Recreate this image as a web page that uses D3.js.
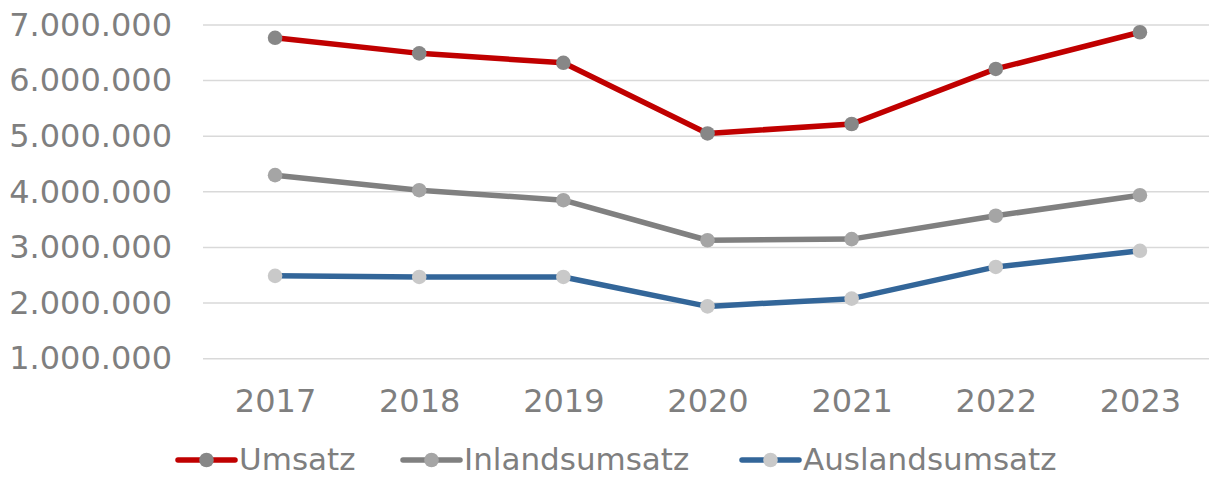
<!DOCTYPE html>
<html>
<head>
<meta charset="utf-8">
<script src="https://cdn.jsdelivr.net/npm/d3@7"></script>
<style>
  html, body { margin: 0; padding: 0; background: #fff; }
  svg { display: block; }
  text { font-family: "DejaVu Sans", Verdana, sans-serif; fill: #7f7f7f; }
</style>
</head>
<body>
<svg id="chart" width="1209" height="477"></svg>
<script>
const years = ["2017", "2018", "2019", "2020", "2021", "2022", "2023"];
const umsatz = [6770000, 6490000, 6320000, 5050000, 5220000, 6210000, 6870000];
const inlandsumsatz = [4300000, 4030000, 3850000, 3130000, 3150000, 3570000, 3940000];
const auslandsumsatz = [2490000, 2470000, 2470000, 1940000, 2080000, 2650000, 2940000];
const yTicks = [1000000, 2000000, 3000000, 4000000, 5000000, 6000000, 7000000];
const seriesNames = ["Umsatz", "Inlandsumsatz", "Auslandsumsatz"];

const series = [
  { name: seriesNames[0], values: umsatz, line: "#c00000", marker: "#878787" },
  { name: seriesNames[1], values: inlandsumsatz, line: "#808080", marker: "#a5a5a5" },
  { name: seriesNames[2], values: auslandsumsatz, line: "#336699", marker: "#c9c9c9" }
];

const svg = d3.select("#chart");
const plot = { left: 203, right: 1212, top: 25, bottom: 358.7 };

const x = d3.scalePoint().domain(years).range([plot.left, plot.right]).padding(0.5);
const y = d3.scaleLinear().domain([1000000, 7000000]).range([plot.bottom, plot.top]);

const fmt = v => d3.format(",")(v).replace(/,/g, ".");

// gridlines
svg.append("g").selectAll("line").data(yTicks).join("line")
  .attr("x1", plot.left).attr("x2", 1209)
  .attr("y1", d => y(d)).attr("y2", d => y(d))
  .attr("stroke", "#d9d9d9").attr("stroke-width", 1.5);

// y labels
const yAxis = d3.axisLeft(y).tickValues(yTicks).tickFormat(fmt).tickSize(0).tickPadding(0);
const gy = svg.append("g").attr("transform", "translate(172,0)").call(yAxis);
gy.select(".domain").remove();
gy.selectAll("text").attr("font-size", 32).attr("fill", "#7f7f7f")
  .attr("font-family", "DejaVu Sans, Verdana, sans-serif");

// x labels
const xAxis = d3.axisBottom(x).tickSize(0).tickPadding(0);
const gx = svg.append("g").attr("transform", "translate(0,389)").call(xAxis);
gx.select(".domain").remove();
gx.selectAll("text").attr("font-size", 32).attr("fill", "#7f7f7f")
  .attr("font-family", "DejaVu Sans, Verdana, sans-serif");

const line = d3.line().x((d, i) => x(years[i])).y(d => y(d));

series.forEach(s => {
  svg.append("path").datum(s.values)
    .attr("d", line).attr("fill", "none")
    .attr("stroke", s.line).attr("stroke-width", 5.5)
    .attr("stroke-linejoin", "round");
  svg.append("g").selectAll("circle").data(s.values).join("circle")
    .attr("cx", (d, i) => x(years[i])).attr("cy", d => y(d))
    .attr("r", 7.3).attr("fill", s.marker);
});

// legend
const legendX = [178, 403, 742];
const legendY = 460;
series.forEach((s, i) => {
  const g = svg.append("g").attr("transform", `translate(${legendX[i]},${legendY})`);
  g.append("line").attr("x1", 0).attr("x2", 57).attr("y1", 0).attr("y2", 0)
    .attr("stroke", s.line).attr("stroke-width", 5.5).attr("stroke-linecap", "round");
  g.append("circle").attr("cx", 28.5).attr("cy", 0).attr("r", 7.3).attr("fill", s.marker);
  g.append("text").attr("x", 61).attr("y", 0).attr("dy", "0.33em")
    .attr("font-size", 31).text(s.name);
});
</script>
</body>
</html>
